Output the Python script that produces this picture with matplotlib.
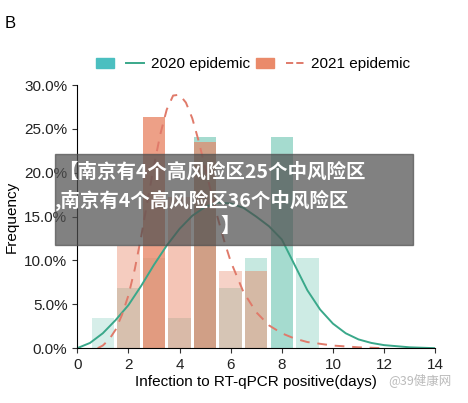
import matplotlib
matplotlib.use("Agg")
import matplotlib.pyplot as plt
from matplotlib.patches import Patch, Rectangle
from matplotlib.lines import Line2D
import numpy as np

plt.rcParams['font.family'] = ['Liberation Sans', 'Noto Sans CJK SC']

days = [1, 2, 3, 4, 5, 6, 7, 8, 9]
freq_2020 = [3.4, 6.9, 10.3, 3.4, 24.1, 6.9, 10.3, 24.1, 10.3]
freq_2021 = [0.0, 11.7, 26.4, 17.2, 23.5, 8.8, 8.8, 0.0, 0.0]

curve_x_2020 = [0, 0.5, 1, 1.5, 2, 2.5, 3, 3.5, 4, 4.5, 5, 5.5, 6, 6.5, 7, 7.5, 8, 8.5, 9, 9.5, 10, 10.5, 11, 11.5, 12, 13, 14]
curve_y_2020 = [0, 0.6, 1.7, 3.2, 4.9, 7.1, 9.5, 11.7, 13.6, 15.1, 16.1, 16.6, 16.5, 16.0, 15.0, 13.9, 12.4, 9.5, 6.6, 4.4, 2.8, 1.7, 1.0, 0.6, 0.35, 0.1, 0.0]
curve_x_2021 = [0.8, 1, 1.25, 1.5, 1.75, 2, 2.25, 2.5, 2.75, 3, 3.25, 3.5, 3.75, 4, 4.25, 4.5, 4.75, 5, 5.25, 5.5, 5.75, 6, 6.5, 7, 7.5, 8, 8.5, 9, 10, 11, 12]
curve_y_2021 = [0, 0.3, 1.0, 2.1, 3.8, 6.0, 9.0, 12.7, 16.8, 20.8, 24.4, 27.2, 28.8, 28.9, 28.0, 26.2, 23.6, 20.6, 17.6, 14.8, 12.2, 9.9, 6.4, 4.1, 2.6, 1.7, 1.1, 0.7, 0.3, 0.1, 0.0]

teal = '#5cbfa8'
red = '#e8805f'

fig = plt.figure(figsize=(4.68, 4.03), dpi=100)
ax = fig.add_axes([0.165, 0.136, 0.765, 0.653])

teal_alpha = [0.25, 0.3, 0.3, 0.3, 0.55, 0.3, 0.35, 0.55, 0.3]
red_alpha = [0.5, 0.4, 0.75, 0.45, 0.65, 0.35, 0.45, 0.5, 0.5]
for d, v, a in zip(days, freq_2020, teal_alpha):
    ax.bar(d, v, width=0.88, color=teal, alpha=a, linewidth=0)
for d, v, a in zip(days, freq_2021, red_alpha):
    ax.bar(d, v, width=0.88, color=red, alpha=a, linewidth=0)

ax.plot(curve_x_2020, curve_y_2020, color='#3aa88a', lw=1.4)
ax.plot(curve_x_2021, curve_y_2021, color='#e07a6a', lw=1.4, ls=(0, (5, 4)))

ax.set_xlim(0, 14)
ax.set_ylim(0, 30)
ax.set_xticks(range(0, 15, 2))
ax.set_yticks(np.arange(0, 31, 5))
ax.set_yticklabels([f"{v:.1f}%" for v in np.arange(0, 31, 5)])
for s in ['top', 'right']:
    ax.spines[s].set_visible(False)
ax.tick_params(labelsize=11, color='#333333', labelcolor='#222222')
ax.set_xlabel('Infection to RT-qPCR positive(days)', fontsize=11, labelpad=2)
ax.set_ylabel('Frequency', fontsize=11, labelpad=4)

h1 = [Patch(color='#4bbfc0'), Line2D([], [], color='#3aa88a', lw=1.4),
      Patch(color='#ea8a6a'), Line2D([], [], color='#e07a6a', lw=1.4, ls='--')]
fig.legend(h1, ['', '2020 epidemic', '', '2021 epidemic'], ncol=4, frameon=False,
           loc='center', bbox_to_anchor=(0.54, 0.84), fontsize=11,
           handlelength=1.2, columnspacing=0.4, handletextpad=0.4)

fig.text(0.01, 0.93, 'B', fontsize=12)

cjk = ['Noto Sans CJK SC', 'DejaVu Sans']
fig.patches.append(Rectangle((0.117, 0.392), 0.765, 0.225, transform=fig.transFigure,
                             color='#505050', alpha=0.72, zorder=10))
fig.text(0.125, 0.573, '【南京有4个高风险区25个中风险区', fontsize=14, color='white',
         weight='bold', family=cjk, zorder=11, va='center')
fig.text(0.118, 0.502, ',南京有4个高风险区36个中风险区', fontsize=14, color='white',
         weight='bold', family=cjk, zorder=11, va='center')
fig.text(0.47, 0.437, '】', fontsize=14, color='white',
         weight='bold', family=cjk, zorder=11, va='center')
fig.text(0.83, 0.048, '@39健康网', fontsize=9, color='#bbbbbb', family=cjk, zorder=11)

fig.savefig('out.png', dpi=100)
